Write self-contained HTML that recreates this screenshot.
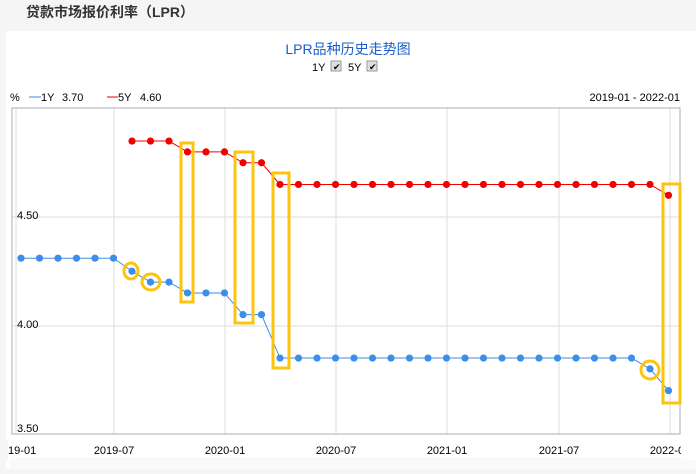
<!DOCTYPE html><html><head><meta charset="utf-8"><style>
body{margin:0;width:696px;height:469px;background:#f5f5f5;overflow:hidden;font-family:"Liberation Sans","Noto Sans CJK SC",sans-serif}
</style></head><body>
<svg width="696" height="469" xmlns="http://www.w3.org/2000/svg" font-family="Liberation Sans, Noto Sans CJK SC, sans-serif">
<text x="26" y="17" font-size="14" font-weight="bold" fill="#333">贷款市场报价利率（LPR）</text>
<rect x="6" y="31" width="690" height="438" fill="#fff"/>
<rect x="10" y="457" width="686" height="12" fill="#fafafa"/>
<text x="348" y="54" font-size="14" fill="#1a5fc8" text-anchor="middle">LPR品种历史走势图</text>
<text x="312" y="71" font-size="11" fill="#000">1Y</text><rect x="331" y="61" width="10" height="10" fill="#ddd" stroke="#999"/><text x="333" y="70" font-size="9">✔</text>
<text x="348" y="71" font-size="11" fill="#000">5Y</text><rect x="367" y="61" width="10" height="10" fill="#ddd" stroke="#999"/><text x="369" y="70" font-size="9">✔</text>
<text x="10" y="101" font-size="11">%</text>
<line x1="29" y1="97" x2="41" y2="97" stroke="#3b8be6"/><text x="41" y="101" font-size="11">1Y</text><text x="62" y="101" font-size="11">3.70</text>
<line x1="107" y1="97" x2="118" y2="97" stroke="#e00"/><text x="118" y="101" font-size="11">5Y</text><text x="140" y="101" font-size="11">4.60</text>
<text x="680" y="101" font-size="11" text-anchor="end">2019-01 - 2022-01</text>
<g stroke="#ddd" stroke-width="1">
<line x1="16" y1="108" x2="16" y2="434"/><line x1="114" y1="108" x2="114" y2="434"/><line x1="225" y1="108" x2="225" y2="434"/><line x1="336" y1="108" x2="336" y2="434"/><line x1="447" y1="108" x2="447" y2="434"/><line x1="559" y1="108" x2="559" y2="434"/><line x1="670" y1="108" x2="670" y2="434"/>
<line x1="12" y1="217" x2="680" y2="217"/><line x1="12" y1="326" x2="680" y2="326"/>
</g>
<rect x="12" y="108" width="668" height="326" fill="none" stroke="#a8adb8"/>
<text x="17" y="219" font-size="11">4.50</text><text x="17" y="328" font-size="11">4.00</text><text x="17" y="432" font-size="11">3.50</text>
<g font-size="11" text-anchor="middle">
<text x="16" y="454">2019-01</text><text x="114" y="454">2019-07</text><text x="225" y="454">2020-01</text><text x="336" y="454">2020-07</text><text x="447" y="454">2021-01</text><text x="559" y="454">2021-07</text><text x="670" y="454">2022-01</text></g>
<rect x="0" y="440" width="8" height="20" fill="#f5f5f5"/><rect x="681" y="440" width="15" height="20" fill="#fff"/>

<polyline fill="none" stroke="#3d8ee8" stroke-width="1" points="21,258.2 113.5,258.2 132,271.25 150.5,282.1 169,282.1 187.5,292.95 224.5,292.95 243,314.65 261.5,314.65 280,358.05 631.5,358.05 650,368.9 668.5,390.6"/>
<polyline fill="none" stroke="#f00000" stroke-width="1" points="132,141.05 169,141.05 187.5,151.9 224.5,151.9 243,162.75 261.5,162.75 280,184.45 650,184.45 668.5,195.3"/>
<g fill="#3d8ee8">
<circle cx="21" cy="258.2" r="3.6"/><circle cx="39.5" cy="258.2" r="3.6"/><circle cx="58" cy="258.2" r="3.6"/><circle cx="76.5" cy="258.2" r="3.6"/><circle cx="95" cy="258.2" r="3.6"/><circle cx="113.5" cy="258.2" r="3.6"/>
<circle cx="132" cy="271.25" r="3.6"/><circle cx="150.5" cy="282.1" r="3.6"/><circle cx="169" cy="282.1" r="3.6"/>
<circle cx="187.5" cy="292.95" r="3.6"/><circle cx="206" cy="292.95" r="3.6"/><circle cx="224.5" cy="292.95" r="3.6"/>
<circle cx="243" cy="314.65" r="3.6"/><circle cx="261.5" cy="314.65" r="3.6"/>
<circle cx="280" cy="358.05" r="3.6"/><circle cx="298.5" cy="358.05" r="3.6"/><circle cx="317" cy="358.05" r="3.6"/><circle cx="335.5" cy="358.05" r="3.6"/><circle cx="354" cy="358.05" r="3.6"/><circle cx="372.5" cy="358.05" r="3.6"/><circle cx="391" cy="358.05" r="3.6"/><circle cx="409.5" cy="358.05" r="3.6"/><circle cx="428" cy="358.05" r="3.6"/><circle cx="446.5" cy="358.05" r="3.6"/><circle cx="465" cy="358.05" r="3.6"/><circle cx="483.5" cy="358.05" r="3.6"/><circle cx="502" cy="358.05" r="3.6"/><circle cx="520.5" cy="358.05" r="3.6"/><circle cx="539" cy="358.05" r="3.6"/><circle cx="557.5" cy="358.05" r="3.6"/><circle cx="576" cy="358.05" r="3.6"/><circle cx="594.5" cy="358.05" r="3.6"/><circle cx="613" cy="358.05" r="3.6"/><circle cx="631.5" cy="358.05" r="3.6"/>
<circle cx="650" cy="368.9" r="3.6"/><circle cx="668.5" cy="390.6" r="3.6"/>
</g>
<g fill="#f00000">
<circle cx="132" cy="141.05" r="3.6"/><circle cx="150.5" cy="141.05" r="3.6"/><circle cx="169" cy="141.05" r="3.6"/>
<circle cx="187.5" cy="151.9" r="3.6"/><circle cx="206" cy="151.9" r="3.6"/><circle cx="224.5" cy="151.9" r="3.6"/>
<circle cx="243" cy="162.75" r="3.6"/><circle cx="261.5" cy="162.75" r="3.6"/>
<circle cx="280" cy="184.45" r="3.6"/><circle cx="298.5" cy="184.45" r="3.6"/><circle cx="317" cy="184.45" r="3.6"/><circle cx="335.5" cy="184.45" r="3.6"/><circle cx="354" cy="184.45" r="3.6"/><circle cx="372.5" cy="184.45" r="3.6"/><circle cx="391" cy="184.45" r="3.6"/><circle cx="409.5" cy="184.45" r="3.6"/><circle cx="428" cy="184.45" r="3.6"/><circle cx="446.5" cy="184.45" r="3.6"/><circle cx="465" cy="184.45" r="3.6"/><circle cx="483.5" cy="184.45" r="3.6"/><circle cx="502" cy="184.45" r="3.6"/><circle cx="520.5" cy="184.45" r="3.6"/><circle cx="539" cy="184.45" r="3.6"/><circle cx="557.5" cy="184.45" r="3.6"/><circle cx="576" cy="184.45" r="3.6"/><circle cx="594.5" cy="184.45" r="3.6"/><circle cx="613" cy="184.45" r="3.6"/><circle cx="631.5" cy="184.45" r="3.6"/><circle cx="650" cy="184.45" r="3.6"/>
<circle cx="668.5" cy="195.3" r="3.6"/>
</g>
<g fill="none" stroke="#fcc40c" stroke-width="3">
<rect x="181" y="143" width="12" height="159"/><rect x="235" y="152" width="18" height="171"/><rect x="273" y="173" width="16" height="195"/><rect x="663" y="184" width="17" height="219"/>
<ellipse cx="131" cy="271" rx="7" ry="8"/><ellipse cx="151" cy="282" rx="9" ry="8"/><ellipse cx="650" cy="370" rx="9" ry="9"/>
</g>
</svg></body></html>
